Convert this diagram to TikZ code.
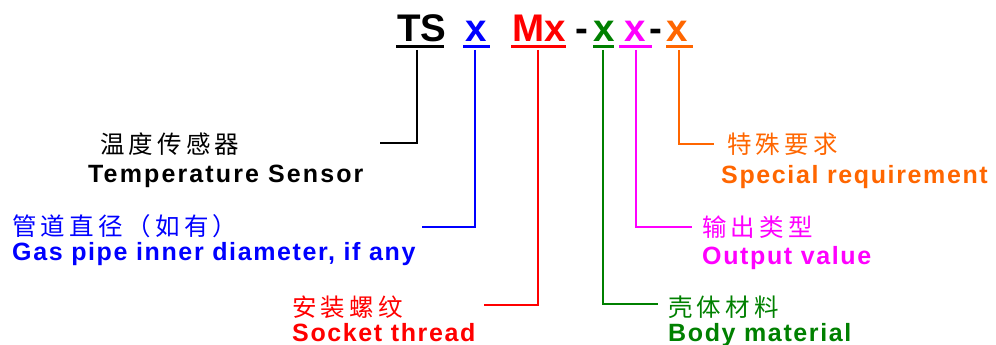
\documentclass[tikz,border=0pt]{standalone}
\usepackage{fontspec}
\newfontfamily\enfont{Liberation Sans}[LetterSpace=6.5]
\newfontfamily\enwidefont{Liberation Sans}[LetterSpace=8.5]
\newfontfamily\topfont{Liberation Sans}
\newfontfamily\cjkfont{Noto Sans CJK SC}[LetterSpace=17]
\definecolor{cgreen}{RGB}{0,128,0}
\definecolor{corange}{RGB}{255,102,0}
\definecolor{cmag}{RGB}{255,0,255}
\begin{document}
\begin{tikzpicture}[x=1pt,y=-1pt,
  tok/.style={inner sep=0pt,anchor=base,font=\topfont\bfseries\fontsize{38.5}{40}\selectfont},
  en/.style={inner sep=0pt,anchor=base west,font=\enfont\bfseries\fontsize{25}{28}\selectfont},
  zh/.style={inner sep=0pt,anchor=base west,font=\cjkfont\fontsize{24.5}{28}\selectfont},
  ul/.style={line width=2.2pt},
  lead/.style={line width=1.8pt}]
\useasboundingbox (0,0) rectangle (996,345);
% code tokens
\node[tok] (tTS) at (422,42) {TS};
\node[tok,blue] (tx1) at (476,42) {x};
\node[tok,red] (tMx) at (539,42) {Mx};
\node[tok] (td1) at (582,42) {-};
\node[tok,cgreen] (tx2) at (604,42) {x};
\node[tok,cmag] (tx3) at (635,42) {x};
\node[tok] (td2) at (656,42) {-};
\node[tok,corange] (tx4) at (677,42) {x};
% underlines
\draw[ul] (396,46.5) -- (444,46.5);
\draw[ul,blue] (463,46.5) -- (490,46.5);
\draw[ul,red] (511,46.5) -- (566,46.5);
\draw[ul,cgreen] (593,46.5) -- (614,46.5);
\draw[ul,cmag] (619,46.5) -- (652,46.5);
\draw[ul,corange] (666,46.5) -- (693,46.5);
% lead coordinates
\coordinate (s1) at (417,50);  \coordinate (e1) at (380,143);
\coordinate (s2) at (475,50);  \coordinate (e2) at (422,227);
\coordinate (s3) at (538,50);  \coordinate (e3) at (484,305);
\coordinate (s4) at (603,50);  \coordinate (e4) at (658,304);
\coordinate (s5) at (636,50);  \coordinate (e5) at (692,227);
\coordinate (s6) at (679,50);  \coordinate (e6) at (714,144);
\draw[lead] (s1) |- (e1);
\draw[lead,blue,line width=1.5pt] (s2) |- (e2);
\draw[lead,red,line width=1.4pt] (s3) |- (e3);
\draw[lead,cgreen,line width=2.4pt] (s4) |- (e4);
\draw[lead,cmag,line width=1.8pt] (s5) |- (e5);
\draw[lead,corange,line width=2.2pt] (s6) |- (e6);
% labels
\node[zh] (zh1) at (100,153) {温度传感器};
\node[en,font=\enwidefont\bfseries\fontsize{25}{28}\selectfont] (en1) at (88,182) {Temperature Sensor};
\node[zh,blue] (zh2) at (12,235) {管道直径（如有）};
\node[en,blue] (en2) at (12,260) {Gas pipe inner diameter, if any};
\node[zh,red] (zh3) at (292,316) {安装螺纹};
\node[en,red] (en3) at (292,341) {Socket thread};
\node[zh,cgreen] (zh4) at (668,316) {壳体材料};
\node[en,cgreen] (en4) at (668,341) {Body material};
\node[zh,corange] (zh5) at (727,153) {特殊要求};
\node[en,corange] (en5) at (721,183) {Special requirement};
\node[zh,cmag] (zh6) at (702,236) {输出类型};
\node[en,cmag] (en6) at (702,264) {Output value};
\end{tikzpicture}
\end{document}
